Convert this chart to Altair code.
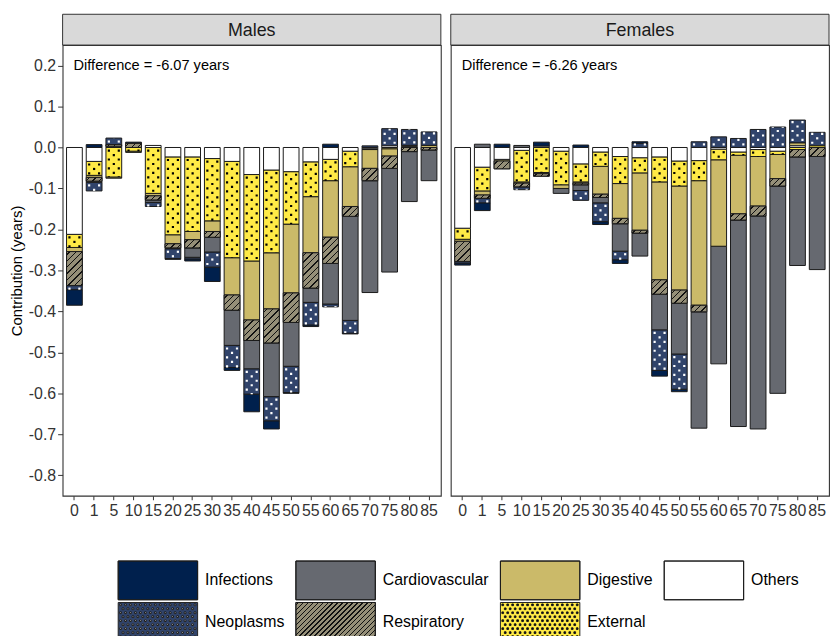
import json
import altair as alt

# ---------------- data ----------------
ages = ["0", "1", "5", "10", "15", "20", "25", "30", "35", "40",
        "45", "50", "55", "60", "65", "70", "75", "80", "85"]
causes = ["Infections", "Neoplasms", "Cardiovascular", "Respiratory",
          "Digestive", "External", "Others"]
legend_order = ["Infections", "Cardiovascular", "Digestive", "Others",
                "Neoplasms", "Respiratory", "External"]
sexes = ["Males", "Females"]
differences = {"Males": "Difference = -6.07 years",
               "Females": "Difference = -6.26 years"}

males_infections = [-0.038, 0.007, 0, 0.003, 0, -0.002, -0.005, -0.035, -0.007, -0.043,
                    -0.020, -0.002, -0.004, 0.008, -0.002, 0, 0, 0, 0]
males_neoplasms = [-0.010, -0.021, 0.016, 0, -0.010, -0.024, -0.004, -0.037, -0.054, -0.062,
                   -0.059, -0.064, -0.055, -0.007, -0.031, 0.004, 0.042, 0.039, 0.033]
males_cardiovascular = [0, -0.003, 0, 0, -0.006, -0.002, -0.023, -0.036, -0.086, -0.069,
                        -0.131, -0.107, -0.035, -0.099, -0.254, -0.273, -0.253, -0.122, -0.075]
males_respiratory = [-0.083, -0.009, 0.004, 0.010, -0.010, -0.010, -0.020, -0.014, -0.037, -0.050,
                     -0.083, -0.072, -0.086, -0.064, -0.024, -0.030, -0.030, -0.010, -0.006]
males_digestive = [-0.010, -0.005, -0.003, -0.003, -0.006, -0.022, -0.020, -0.026, -0.091, -0.144,
                   -0.137, -0.168, -0.137, -0.138, -0.097, -0.046, -0.018, 0.003, 0.005]
males_external = [-0.032, -0.034, -0.072, -0.009, -0.112, -0.190, -0.182, -0.152, -0.235, -0.211,
                  -0.202, -0.128, -0.085, -0.052, -0.038, -0.002, -0.003, 0, 0]
males_others = [-0.212, -0.034, 0.003, 0, 0.005, -0.023, -0.023, -0.027, -0.034, -0.066,
                -0.055, -0.059, -0.035, -0.029, -0.009, -0.003, 0.004, 0.002, 0]

females_infections = [-0.005, -0.019, 0.008, 0, 0.010, 0, 0.006, -0.007, -0.009, 0.004,
                      -0.014, -0.006, 0, 0, 0, 0, 0, 0, 0]
females_neoplasms = [-0.004, -0.011, 0, -0.007, 0, 0, -0.024, -0.046, -0.021, 0.010,
                     -0.099, -0.086, 0.014, 0.026, 0.022, 0.044, 0.050, 0.056, 0.033]
females_cardiovascular = [0, 0.008, 0, 0.005, 0, -0.012, -0.014, -0.013, -0.067, -0.056,
                          -0.087, -0.124, -0.284, -0.287, -0.504, -0.520, -0.506, -0.265, -0.276]
females_respiratory = [-0.049, -0.008, -0.019, -0.009, -0.006, 0, -0.004, -0.008, -0.013, -0.007,
                       -0.035, -0.032, -0.016, 0, -0.015, -0.024, -0.018, -0.018, -0.022]
females_digestive = [-0.005, -0.010, -0.004, -0.003, -0.003, -0.009, -0.003, -0.068, -0.085, -0.140,
                     -0.239, -0.254, -0.304, -0.211, -0.143, -0.121, -0.059, 0.007, 0]
females_external = [-0.027, -0.058, 0, -0.077, -0.061, -0.082, -0.044, -0.035, -0.066, -0.037,
                    -0.061, -0.061, -0.049, -0.026, -0.008, -0.017, -0.008, -0.005, 0.004]
females_others = [-0.197, -0.048, -0.029, -0.007, 0.003, -0.009, -0.040, -0.011, -0.022, -0.025,
                  -0.023, -0.033, -0.032, -0.004, -0.011, -0.005, -0.009, 0.004, 0]

series = {
    "Males": {"Infections": males_infections, "Neoplasms": males_neoplasms,
              "Cardiovascular": males_cardiovascular, "Respiratory": males_respiratory,
              "Digestive": males_digestive, "External": males_external, "Others": males_others},
    "Females": {"Infections": females_infections, "Neoplasms": females_neoplasms,
                "Cardiovascular": females_cardiovascular, "Respiratory": females_respiratory,
                "Digestive": females_digestive, "External": females_external, "Others": females_others},
}

# ---------------- styling ----------------
colors = {"Infections": "#00204D", "Neoplasms": "#31446B", "Cardiovascular": "#666970",
          "Respiratory": "#958F78", "Digestive": "#CBBA69", "External": "#FFEA46",
          "Others": "#FFFFFF"}
dot_colors = {"Neoplasms": "white", "External": "black"}
stack_rank = {"Others": 1, "External": 2, "Digestive": 3, "Respiratory": 4,
              "Cardiovascular": 5, "Neoplasms": 6, "Infections": 7}

W, H = 381, 454
Y_DOMAIN = [-0.85, 0.25]
PX_PER_UNIT = H / (Y_DOMAIN[1] - Y_DOMAIN[0])
BAND_W = W / (len(ages) - 0.2 + 0.4) * 0.8
FONT = "Liberation Sans"

KEY_H = 39.0          # legend key height (nominal symbol size)
KEY_W = 80.0          # legend key width
UNIT = KEY_H / 2      # pixels per symbol-path unit
key_x = KEY_W / KEY_H
KEY_PATH = f"M-{key_x:.4f},-1H{key_x:.4f}V1H-{key_x:.4f}Z"
ZW = "\u200b"         # keeps the pattern legend's domain distinct from the colour legend


def dot_path(step_x=5.0, step_y=4.0, size=1.7):
    """Symbol path made of small squares: the dotted pattern of a legend key."""
    parts = []
    s = size / UNIT
    row = 0
    y = -KEY_H / 2 + 1.5
    while y + size < KEY_H / 2:
        x = -KEY_W / 2 + 1.5 + (step_x / 2 if row % 2 else 0)
        while x + size < KEY_W / 2:
            parts.append(f"M{x / UNIT:.3f},{y / UNIT:.3f}h{s:.3f}v{s:.3f}h-{s:.3f}Z")
            x += step_x
        y += step_y
        row += 1
    return "".join(parts)


DOT_PATH = dot_path()


def hatch_gradient(w, h, spacing, thick, base="#958F78", line="#111111"):
    L = w + h
    stops = [{"offset": 0, "color": base}]
    c = spacing / 2.0
    while c < L:
        a = max(0.0, (c - thick / 2) / L)
        b = min(1.0, (c + thick / 2) / L)
        stops += [{"offset": round(a, 5), "color": base},
                  {"offset": round(a, 5), "color": line},
                  {"offset": round(b, 5), "color": line},
                  {"offset": round(b, 5), "color": base}]
        c += spacing
    stops.append({"offset": 1, "color": base})
    k = L / (w * w + h * h)
    return {"gradient": "linear", "x1": 0, "y1": 0,
            "x2": round(k * w, 5), "y2": round(k * h, 5), "stops": stops}


def records_for(sex):
    rows = []
    for cause in causes:
        for age, v in zip(ages, series[sex][cause]):
            r = {"age": age, "cause": cause, "value": v, "ord": stack_rank[cause]}
            if cause == "Respiratory" and v != 0:
                r["grad"] = hatch_gradient(BAND_W, abs(v) * PX_PER_UNIT, 6.5, 1.4)
            rows.append(r)
    return rows


legend_hatch = hatch_gradient(KEY_W, KEY_H, 5.0, 1.3)
color_range = [colors[c] if c != "Respiratory" else alt.ExprRef(expr=json.dumps(legend_hatch))
               for c in legend_order]

LEG_X, LEG_Y = 76, 519


def legend_common(**kw):
    return alt.Legend(orient="none", legendX=LEG_X, legendY=LEG_Y, direction="horizontal",
                      columns=4, title=None, symbolSize=KEY_H * KEY_H, symbolStrokeWidth=1,
                      symbolOpacity=1, labelFontSize=16,
                      labelOffset=(KEY_W - KEY_H) / 2 + 7, columnPadding=8, rowPadding=-3,
                      labelLimit=400, padding=0, **kw)


x_scale = alt.Scale(type="band", paddingInner=0.2, paddingOuter=0.2)
y_scale = alt.Scale(domain=Y_DOMAIN, nice=False, zero=False)
y_ticks = [-0.8, -0.7, -0.6, -0.5, -0.4, -0.3, -0.2, -0.1, 0.0, 0.1, 0.2]


def panel(sex, show_y):
    x_axis = alt.Axis(labelAngle=0, labelFontSize=16, labelColor="#333333", tickSize=4,
                      tickColor="#333333", domain=False, labelPadding=3, title=None)
    if show_y:
        y_axis = alt.Axis(values=y_ticks, labelFontSize=16, labelColor="#333333",
                          labelExpr="replace(format(datum.value, '.1f'), '\u2212', '-')",
                          tickSize=5, tickColor="#333333", domain=False, grid=False,
                          labelPadding=2, title="Contribution (years)", titleFontSize=15,
                          titleFontWeight="normal", titleColor="black", titlePadding=4)
    else:
        y_axis = None

    def X():
        return alt.X("age:O", sort=ages, scale=x_scale, axis=x_axis)

    def Y():
        return alt.Y("y0:Q", scale=y_scale, axis=y_axis)

    base = (alt.Chart(alt.Data(values=records_for(sex)))
            .transform_filter("datum.value != 0")
            .transform_stack(stack="value", groupby=["age"], as_=["y0", "y1"], offset="zero",
                             sort=[alt.SortField("ord", order="ascending")]))

    bars = base.mark_bar(stroke="#1a1a1a", strokeWidth=1).encode(
        x=X(), y=Y(), y2="y1:Q",
        color=alt.Color("cause:N",
                        scale=alt.Scale(domain=legend_order, range=color_range),
                        legend=legend_common(symbolType=KEY_PATH, labelColor="black",
                                             symbolStrokeColor="#222222")),
    )

    hatch = (base.transform_filter("datum.cause == 'Respiratory'")
             .mark_bar(stroke="#1a1a1a", strokeWidth=1)
             .encode(x=X(), y=Y(), y2="y1:Q", fill=alt.Fill("grad:N", scale=None)))

    dot_layers = []
    for dx, off in [(-5, -2.0), (0, -6.5), (5, -2.0)]:
        dot_layers.append(
            base.transform_filter("datum.cause == 'Neoplasms' || datum.cause == 'External'")
            .mark_rule(strokeWidth=2.2, strokeDash=[2.2, 6.8], strokeDashOffset=off,
                       strokeCap="butt", xOffset=dx)
            .encode(x=X(), y=Y(), y2="y1:Q",
                    color=alt.condition("datum.cause == 'Neoplasms'",
                                        alt.value("white"), alt.value("black"))))

    one = alt.Data(values=[{"label": sex, "note": differences[sex]}])
    strip = alt.Chart(one).mark_rect(fill="#d9d9d9", stroke="#333333", strokeWidth=1).encode(
        x=alt.value(0), x2=alt.value(W), y=alt.value(-31), y2=alt.value(0))
    strip_text = alt.Chart(one).mark_text(fontSize=18, color="#1a1a1a", baseline="middle").encode(
        x=alt.value(W / 2), y=alt.value(-14.5), text="label:N")
    note = alt.Chart(one).mark_text(fontSize=14.7, color="black", align="left",
                                    baseline="middle").encode(
        x=alt.value(11), y=alt.value(21.5), text="note:N")

    layers = [strip, strip_text, bars, hatch, *dot_layers, note]

    if show_y:
        # second legend laid exactly over the first one: dotted patterns of the keys
        pat_domain = [c + ZW for c in legend_order]
        pat_leg = legend_common(symbolStrokeColor="transparent", labelOpacity=0,
                                labelColor="transparent",
                                labelExpr=f"replace(datum.label, '{ZW}', '')")
        pattern_legend = (alt.Chart(alt.Data(values=[{"pcause": "Others" + ZW}]))
                          .transform_filter("false")
                          .mark_point(filled=True, opacity=1)
                          .encode(
                              shape=alt.Shape("pcause:N", scale=alt.Scale(
                                  domain=pat_domain,
                                  range=[DOT_PATH if c in dot_colors else KEY_PATH
                                         for c in legend_order]), legend=pat_leg),
                              fill=alt.Fill("pcause:N", scale=alt.Scale(
                                  domain=pat_domain,
                                  range=[dot_colors.get(c, "transparent")
                                         for c in legend_order]), legend=pat_leg)))
        layers.append(pattern_legend)

    return alt.layer(*layers).properties(width=W, height=H)


chart = (alt.hconcat(panel("Males", True), panel("Females", False), spacing=6)
         .resolve_scale(color="shared")
         .resolve_legend(color="shared")
         .properties(padding={"left": 0, "top": 2, "right": 0, "bottom": 0})
         .configure(font=FONT)
         .configure_view(stroke="#333333", strokeWidth=1.1))

chart.save("out.html", embed_options={"renderer": "svg", "actions": False})
